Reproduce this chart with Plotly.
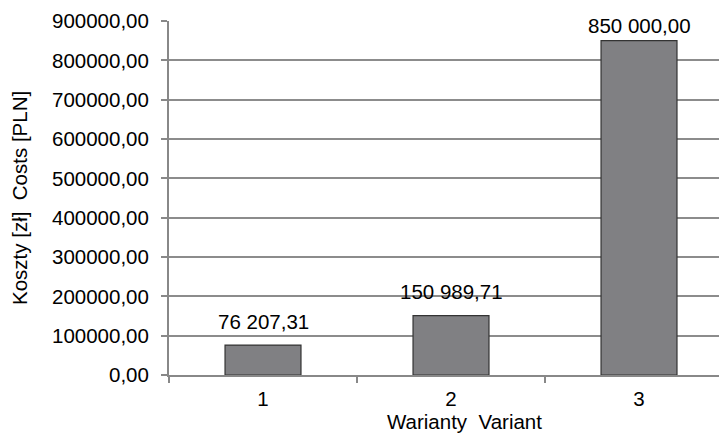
import plotly.graph_objects as go

categories = ["1", "2", "3"]
costs = [76207.31, 150989.71, 850000.00]
value_labels = ["76 207,31", "150 989,71", "850 000,00"]
y_ticks = [0, 100000, 200000, 300000, 400000, 500000, 600000, 700000, 800000, 900000]
y_tick_labels = ["0,00", "100000,00", "200000,00", "300000,00", "400000,00",
                 "500000,00", "600000,00", "700000,00", "800000,00", "900000,00"]

# style: vertical offsets (px) of the value labels above each bar
label_shift = [10, 11, 2]

x_pos = list(range(len(categories)))
FAM = "Liberation Sans, Arial"
font = dict(family=FAM, size=20.5, color="#000000")

fig = go.Figure()
fig.add_trace(go.Bar(
    x=x_pos, y=costs, width=0.404,
    marker=dict(color="#808083", line=dict(color="#333333", width=1.2)),
    showlegend=False, hoverinfo="skip",
))

annotations = []
for xv, yv, lab, sh in zip(x_pos, costs, value_labels, label_shift):
    annotations.append(dict(x=xv, y=yv, xref="x", yref="y", text=lab,
                            showarrow=False, yanchor="bottom", yshift=sh,
                            font=font))
annotations.append(dict(x=0.5296, y=0, xref="paper", yref="paper",
                        text="Warianty\u00a0\u00a0Variant", showarrow=False,
                        yanchor="middle", yshift=-46, font=font))
annotations.append(dict(x=-0.2688, y=0.5, xref="paper", yref="paper",
                        text="Koszty [zł]\u00a0\u00a0Costs [PLN]", showarrow=False,
                        textangle=-90, xanchor="center", yanchor="middle", font=font))

# the page body has an 8px default margin, so margins are compensated
fig.update_layout(
    width=727, height=433,
    margin=dict(l=161, r=8, t=13, b=66, autoexpand=False),
    paper_bgcolor="white", plot_bgcolor="white",
    font=font,
    annotations=annotations,
    xaxis=dict(
        range=[-0.5, 2.468], automargin=False,
        tickmode="array", tickvals=x_pos, ticktext=categories,
        ticks="", showgrid=False, zeroline=False,
        showline=True, linecolor="#888888", linewidth=2,
        minor=dict(tick0=0.5, dtick=1, ticks="outside", ticklen=6,
                   tickcolor="#888888", tickwidth=2, showgrid=False),
        ticklabelstandoff=4,
        tickfont=font,
    ),
    yaxis=dict(
        range=[0, 900000], automargin=False,
        tickmode="array", tickvals=y_ticks, ticktext=y_tick_labels,
        ticks="outside", ticklen=6, tickcolor="#888888", tickwidth=2,
        showgrid=True, gridcolor="#8c8c8c", gridwidth=2,
        zeroline=False, showline=True, linecolor="#888888", linewidth=2,
        ticklabelstandoff=8,
        tickfont=font,
    ),
)

fig.write_html("out.html")
